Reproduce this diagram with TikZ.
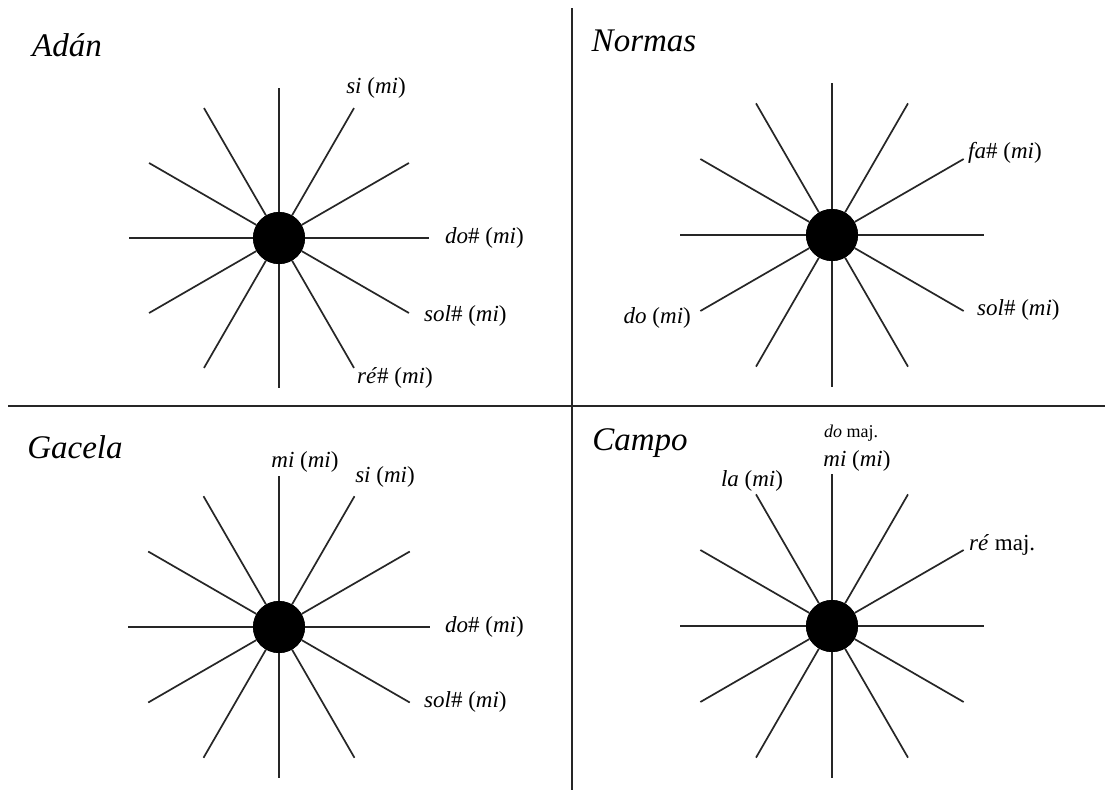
\documentclass[tikz,border=0pt]{standalone}
\usepackage{fontspec}
\setmainfont{Liberation Serif}
\usetikzlibrary{calc}

\tikzset{
  divider/.style={line width=2.4pt, draw=black!85},
  spoke/.style={line width=1.7pt, draw=black!85},
  hub/.style={circle, fill=black, minimum size=52pt, inner sep=0pt},
  title/.style={font=\fontsize{33}{38}\selectfont\itshape, inner sep=0pt},
  note/.style={font=\fontsize{23}{26}\selectfont, inner sep=0pt},
  smallnote/.style={font=\fontsize{18}{21}\selectfont, inner sep=0pt}
}

% draws the twelve spokes round a hub node #1, ends named #1-0 ... #1-11
\newcommand{\spokes}[2]{%
  \foreach \k in {0,...,11}{%
    \pgfmathsetmacro{\ang}{\k*30}%
    \coordinate (#1-\k) at ($(#1)+(\ang:#2pt)$);
    \draw[spoke] (#1) -- (#1-\k);
  }%
}

\begin{document}
\begin{tikzpicture}[x=1pt, y=-1pt]
  \useasboundingbox (0,0) rectangle (1105,790);
  \fill[white] (0,0) rectangle (1105,790);

  % quadrant dividers
  \coordinate (vtop) at (572,8);
  \coordinate (vbot) at (572,790);
  \coordinate (hleft) at (8,406);
  \coordinate (hright) at (1105,406);
  \draw[divider] (vtop) -- (vbot);
  \draw[divider] (hleft) -- (hright);

  % titles
  \node[title] (tA) at (67,45) {Adán};
  \node[title] (tN) at (644,41) {Normas};
  \node[title] (tG) at (75,447) {Gacela};
  \node[title] (tC) at (640,443) {Campo};

  % stars
  \node[hub] (A) at (279,238) {};
  \node[hub] (N) at (832,235) {};
  \node[hub] (G) at (279,627) {};
  \node[hub] (C) at (832,626) {};
  \spokes{A}{150}
  \spokes{N}{152}
  \spokes{G}{151}
  \spokes{C}{152}
  \foreach \h in {A,N,G,C}{\node[hub] at (\h) {};}

  % Adán
  \node[note] (A-si)  at (376,88)  {\textit{si} (\textit{mi})};
  \node[note, anchor=west] (A-do)  at (445,238) {\textit{do}\# (\textit{mi})};
  \node[note, anchor=west] (A-sol) at (424,316) {\textit{sol}\# (\textit{mi})};
  \node[note, anchor=west] (A-re)  at (357,378) {\textit{ré}\# (\textit{mi})};

  % Normas
  \node[note, anchor=west] (N-fa)  at (968,153) {\textit{fa}\# (\textit{mi})};
  \node[note, anchor=west] (N-sol) at (977,310) {\textit{sol}\# (\textit{mi})};
  \node[note, anchor=east] (N-do)  at (691,318) {\textit{do} (\textit{mi})};

  % Gacela
  \node[note] (G-mi)  at (305,462) {\textit{mi} (\textit{mi})};
  \node[note] (G-si)  at (385,477) {\textit{si} (\textit{mi})};
  \node[note, anchor=west] (G-do)  at (445,627) {\textit{do}\# (\textit{mi})};
  \node[note, anchor=west] (G-sol) at (424,702) {\textit{sol}\# (\textit{mi})};

  % Campo
  \node[smallnote] (C-dom) at (851,433) {\textit{do} maj.};
  \node[note] (C-mi)  at (857,461) {\textit{mi} (\textit{mi})};
  \node[note] (C-la)  at (752,481) {\textit{la} (\textit{mi})};
  \node[note, anchor=west] (C-re)  at (969,545) {\textit{ré} maj.};
\end{tikzpicture}
\end{document}
